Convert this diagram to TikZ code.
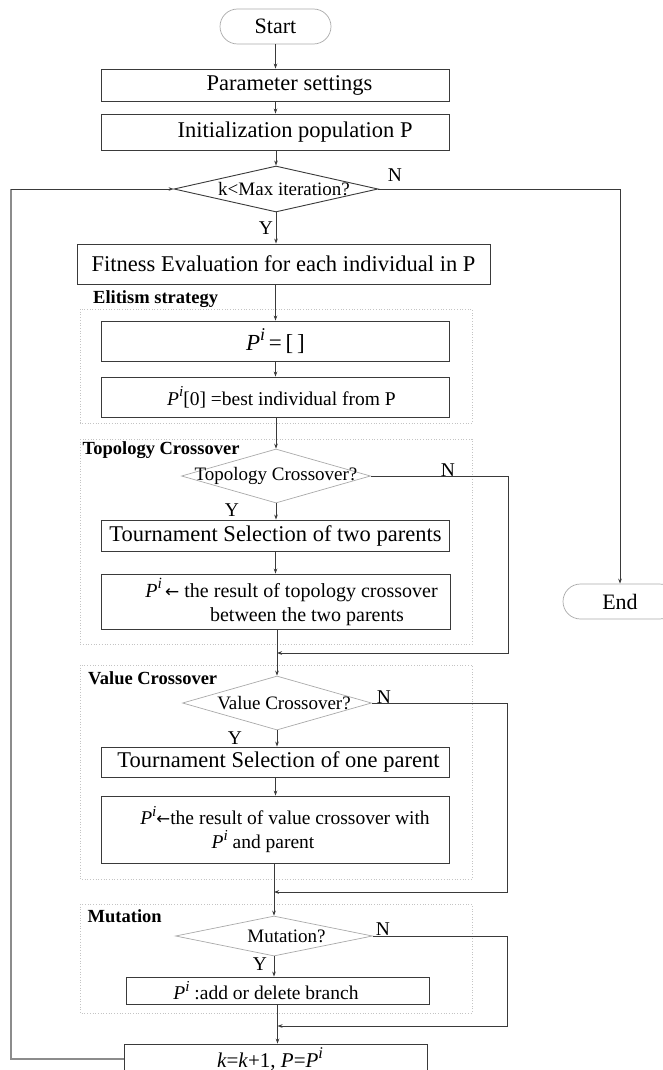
\documentclass[tikz,border=0pt]{standalone}
\usepackage{fontspec}
\setmainfont{Liberation Serif}
\newfontfamily\arrowfont{DejaVu Sans}
\usetikzlibrary{shapes.geometric,shapes.misc,arrows.meta}
\definecolor{edgec}{HTML}{3A3A3A}
\definecolor{framec}{HTML}{C4C4C4}
\definecolor{softc}{HTML}{AAAAAA}
\definecolor{loopc}{HTML}{8C8C8C}
\newcommand{\Pvar}{\textit{P}\raisebox{0.45em}{\scalebox{0.78}{\textit{i}}}}
\newcommand{\getsarrow}{{\arrowfont\scalebox{0.85}{←}}}
\begin{document}
\begin{tikzpicture}[x=1pt,y=-1pt,
  procbox/.style={draw=edgec, line width=0.9pt, fill=white, inner sep=0pt, align=center,
                  font=\fontsize{22.5}{26}\selectfont},
  termbox/.style={rounded rectangle, draw=softc, line width=0.7pt, fill=white, inner sep=0pt,
                  font=\fontsize{22}{26}\selectfont},
  mainq/.style={diamond, draw=edgec, line width=0.9pt, fill=white, inner sep=0pt,
                font=\fontsize{19}{22}\selectfont},
  subq/.style={diamond, draw=softc, line width=0.7pt, fill=white, inner sep=0pt,
               font=\fontsize{19}{22}\selectfont},
  group/.style={draw=framec, dotted, line width=0.7pt},
  grouptitle/.style={anchor=west, inner sep=0pt, font=\fontsize{18.5}{22}\selectfont\bfseries},
  yn/.style={inner sep=0pt, font=\fontsize{19.5}{22}\selectfont},
  flow/.style={draw=edgec, line width=0.8pt, -{Stealth[length=5pt,width=3.6pt]}},
]
\path[use as bounding box, clip] (0,0) rectangle (663,1070);
\fill[white] (0,0) rectangle (663,1070);

% stage frames
\draw[group] (80,309) rectangle (472,423);
\draw[group] (80,439) rectangle (472,644);
\draw[group] (80,665) rectangle (472,879);
\draw[group] (80,904) rectangle (472,1013);

% main column
\node[termbox, minimum width=111pt, minimum height=35pt] (start) at (275.5,26.5) {Start};
\node[procbox, minimum width=348pt, minimum height=32pt] (param) at (275.5,85) {\hspace*{28pt}Parameter settings};
\node[procbox, minimum width=348pt, minimum height=36pt] (init) at (275.5,132) {\hspace*{39pt}Initialization population P};
\node[mainq, minimum width=204pt, minimum height=46pt] (maxit) at (276,189) {\makebox[0pt]{\hspace*{16pt}k<Max iteration?}};
\node[procbox, minimum width=413pt, minimum height=40pt] (fit) at (283.5,264) {Fitness Evaluation for each individual in P};

% elitism
\node[grouptitle] (tElit) at (93,299) {Elitism strategy};
\node[procbox, minimum width=348pt, minimum height=40pt, font=\fontsize{23}{26}\selectfont] (empty) at (275.5,341) {\Pvar\,=\,[\,]};
\node[procbox, minimum width=348pt, minimum height=40pt, font=\fontsize{19.5}{22}\selectfont] (best) at (275.5,397) {\hspace*{12pt}\Pvar[0] =best individual from P};

% topology crossover
\node[grouptitle] (tTopo) at (82.5,450) {Topology Crossover};
\node[subq, minimum width=189pt, minimum height=54pt] (qtopo) at (276,476) {\makebox[0pt]{Topology Crossover?}};
\node[procbox, minimum width=348pt, minimum height=31pt] (sel2) at (275.5,535.5) {Tournament Selection of two parents};
\node[procbox, minimum width=349pt, minimum height=55pt, font=\fontsize{20}{24}\selectfont] (topo) at (275.5,601.5)
  {\hspace*{32pt}\Pvar\,\getsarrow\ the result of topology crossover\\\hspace*{63pt}between the two parents};
\node[termbox, minimum width=114pt, minimum height=35pt] (end) at (620,601.5) {End};

% value crossover
\node[grouptitle] (tVal) at (88,678) {Value Crossover};
\node[subq, minimum width=189pt, minimum height=54pt] (qval) at (277,703) {\makebox[0pt]{\hspace*{14pt}Value Crossover?}};
\node[procbox, minimum width=348pt, minimum height=30pt] (sel1) at (275.5,762) {\hspace*{6pt}Tournament Selection of one parent};
\node[procbox, minimum width=348pt, minimum height=67pt, font=\fontsize{19.5}{24}\selectfont] (val) at (275.5,829.5)
  {\hspace*{19pt}\Pvar\getsarrow the result of value crossover with\\\Pvar\ and parent\hspace*{25pt}};

% mutation
\node[grouptitle] (tMut) at (87.5,916) {Mutation};
\node[subq, minimum width=197pt, minimum height=40pt] (qmut) at (274,936) {\makebox[0pt]{\hspace*{25pt}Mutation?}};
\node[procbox, minimum width=303pt, minimum height=27pt, font=\fontsize{19.5}{22}\selectfont] (mut) at (277.5,990.5)
  {\Pvar\ :add or delete branch\hspace*{23pt}};
\node[procbox, minimum width=303pt, minimum height=30pt, font=\fontsize{21}{24}\selectfont] (inc) at (275.5,1059)
  {\raisebox{2.5pt}{\textit{k}=\textit{k}+1, \textit{P}=\Pvar}\hspace*{11pt}};

% branch labels
\node[yn] (y1) at (266,228) {Y};
\node[yn] (n1) at (395,175) {N};
\node[yn] (y2) at (232,510) {Y};
\node[yn] (n2) at (448,470) {N};
\node[yn] (y3) at (235,738) {Y};
\node[yn] (n3) at (384,697) {N};
\node[yn] (y4) at (260,964) {Y};
\node[yn] (n4) at (383,929) {N};

% junction points
\coordinate (r1) at (508,653);
\coordinate (m1) at (277,653);
\coordinate (r2) at (507.5,892);
\coordinate (m2) at (274,892);
\coordinate (r3) at (507,1026);
\coordinate (m3) at (277.5,1026);
\coordinate (lb) at (11,1059);
\coordinate (lt) at (11,189);

% connectors
\draw[flow] (start.south) -- (param.north);
\draw[flow] (param.south) -- (init.north);
\draw[flow] (maxit.north |- init.south) -- (maxit.north);
\draw[flow] (maxit.south) -- (maxit.south |- fit.north);
\draw[flow] (maxit.east) -| (end.north);
\draw[flow] (empty.north |- fit.south) -- (empty.north);
\draw[flow] (empty.south) -- (best.north);
\draw[flow] (qtopo.north |- best.south) -- (qtopo.north);
\draw[flow] (qtopo.south) -- (qtopo.south |- sel2.north);
\draw[flow] (sel2.south) -- (topo.north);
\draw[flow] (qval.north |- topo.south) -- (qval.north);
\draw[flow] (qtopo.east) -| (r1) -- (m1);
\draw[flow] (qval.south) -- (qval.south |- sel1.north);
\draw[flow] (sel1.south) -- (val.north);
\draw[flow] (qmut.north |- val.south) -- (qmut.north);
\draw[flow] (qval.east) -| (r2) -- (m2);
\draw[flow] (qmut.south) -- (qmut.south |- mut.north);
\draw[flow] (mut.south) -- (mut.south |- inc.north);
\draw[flow] (qmut.east) -| (r3) -- (m3);
\draw[draw=loopc, line width=1.2pt] (inc.west) -- (lb) -- (lt);
\draw[flow] (lt) -- (maxit.west);
\end{tikzpicture}
\end{document}
